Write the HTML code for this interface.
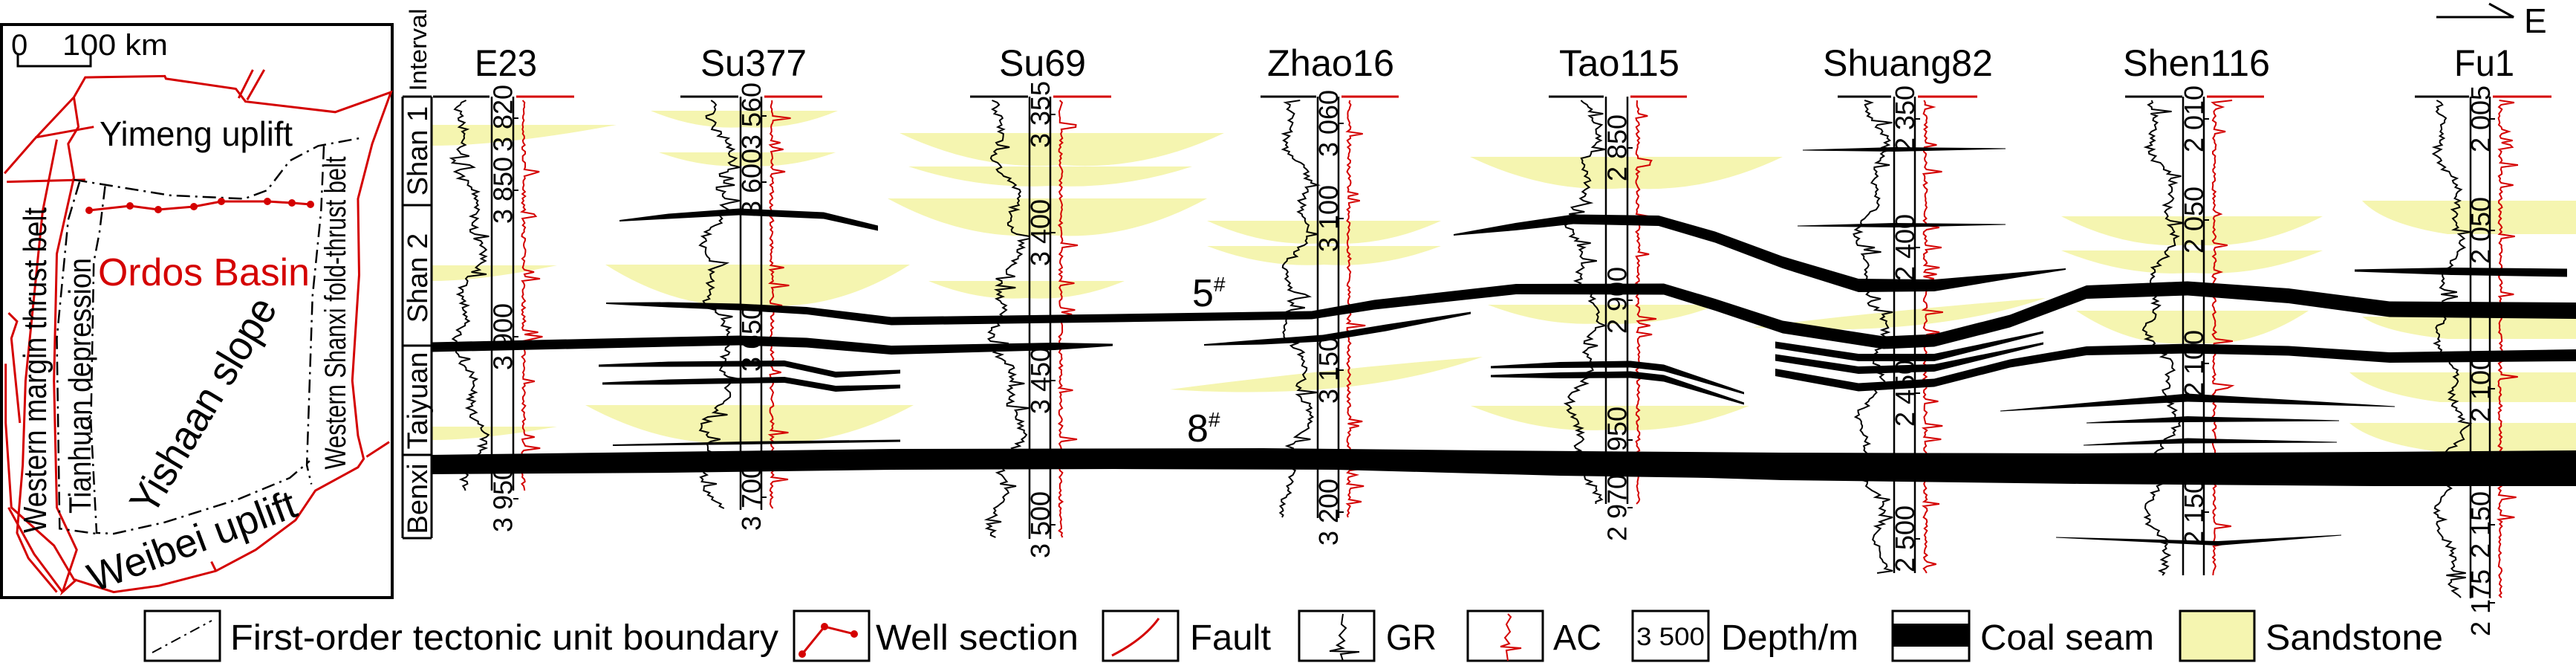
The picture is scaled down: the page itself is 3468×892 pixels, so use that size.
<!DOCTYPE html>
<html><head><meta charset="utf-8"><style>
html,body{margin:0;padding:0;background:#fff}
svg{display:block}
text{font-family:"Liberation Sans",Arial,sans-serif}
</style></head><body>
<svg id="s" xmlns="http://www.w3.org/2000/svg" width="3468" height="892" viewBox="0 0 3468 892">
<rect width="3468" height="892" fill="#fff"/>
<g id="sand" fill="#f5f5b0"></g>
<g id="logs"></g>
<g id="coal" fill="#000"></g>

<!-- MAP -->
<rect x="2" y="33" width="526" height="771" fill="none" stroke="#000" stroke-width="4"/>
<g transform="scale(0.765,0.569)" fill="none">
 <g stroke="#d40000" stroke-width="3">
  <polyline vector-effect="non-scaling-stroke" points="8,410 60,330 130,230 150,183 290,180 292,186 415,210 432,240 590,265 688,218 655,340 630,470 632,650 620,900 630,1030 640,1085 630,1105 555,1160 520,1230 450,1300 380,1350 280,1385 200,1400 130,1370 95,1290 20,1200 10,1000 10,860"/>
  <polyline vector-effect="non-scaling-stroke" points="685,1045 645,1080"/>
  <polyline vector-effect="non-scaling-stroke" points="130,230 138,300 120,340 130,420 100,600 95,900 100,1200 135,1300 110,1400 135,1370"/>
  <polyline vector-effect="non-scaling-stroke" points="62,325 165,300"/>
  <polyline vector-effect="non-scaling-stroke" points="12,430 150,425"/>
  <polyline vector-effect="non-scaling-stroke" points="100,330 75,500 60,700 45,900 40,1100 30,1260 50,1320 100,1400"/>
  <polyline vector-effect="non-scaling-stroke" points="15,740 30,760 20,800 35,1000"/>
  <polyline vector-effect="non-scaling-stroke" points="420,232 445,165"/>
  <polyline vector-effect="non-scaling-stroke" points="435,236 465,165"/>
  <polyline vector-effect="non-scaling-stroke" points="380,1350 372,1328"/>
  <polyline vector-effect="non-scaling-stroke" points="15,1200 60,1310 110,1400"/>
 </g>
 <g stroke="#000" stroke-width="2.5" stroke-dasharray="18,7,3,7">
  <polyline vector-effect="non-scaling-stroke" points="130,425 300,462 430,470 470,450 510,380 560,345 640,325"/>
  <polyline vector-effect="non-scaling-stroke" points="185,440 175,550 165,620 160,1000 170,1260 200,1262 290,1235 420,1180 510,1130 545,1090"/>
  <polyline vector-effect="non-scaling-stroke" points="570,345 565,500 550,700 545,900 540,1100 548,1145"/>
  <polyline vector-effect="non-scaling-stroke" points="140,430 120,520 100,800 105,1250 170,1262"/>
 </g>
</g>
<polyline points="120,283 175,277 213,282 261,278 298,271 360,271 393,273 418,275" fill="none" stroke="#d40000" stroke-width="3"/>
<g fill="#d40000"><circle cx="120" cy="283" r="5"/><circle cx="175" cy="277" r="5"/><circle cx="213" cy="282" r="5"/><circle cx="261" cy="278" r="5"/><circle cx="298" cy="271" r="5"/><circle cx="360" cy="271" r="5"/><circle cx="393" cy="273" r="5"/><circle cx="418" cy="275" r="5"/></g>
<polyline points="24,74 24,89 122,89 122,74" fill="none" stroke="#000" stroke-width="3"/>
<text x="15" y="74" font-size="40">0</text>
<text x="84" y="74" font-size="40" textLength="142" lengthAdjust="spacingAndGlyphs">100 km</text>
<text x="134" y="196" font-size="46" textLength="260" lengthAdjust="spacingAndGlyphs">Yimeng uplift</text>
<text x="132" y="384" font-size="52" fill="#d40000" textLength="285" lengthAdjust="spacingAndGlyphs">Ordos Basin</text>
<text transform="translate(62,498) rotate(-90)" text-anchor="middle" font-size="44" textLength="438" lengthAdjust="spacingAndGlyphs">Western margin thrust belt</text>
<text transform="translate(122,519) rotate(-90)" text-anchor="middle" font-size="42" textLength="344" lengthAdjust="spacingAndGlyphs">Tianhuan depression</text>
<text transform="translate(465,421) rotate(-90)" text-anchor="middle" font-size="40" textLength="421" lengthAdjust="spacingAndGlyphs">Western Shanxi fold-thrust belt</text>
<text transform="translate(290,555) rotate(-59)" text-anchor="middle" font-size="56" textLength="328" lengthAdjust="spacingAndGlyphs">Yishaan slope</text>
<text transform="translate(265,745) rotate(-20.5)" text-anchor="middle" font-size="54" textLength="295" lengthAdjust="spacingAndGlyphs">Weibei uplift</text>

<!-- Interval column -->
<text transform="translate(574,67) rotate(-90)" text-anchor="middle" font-size="32" textLength="111" lengthAdjust="spacingAndGlyphs">Interval</text>
<g stroke="#000" stroke-width="3">
 <line x1="542" y1="130" x2="542" y2="724"/><line x1="581" y1="130" x2="581" y2="724"/>
 <line x1="542" y1="130" x2="581" y2="130"/><line x1="542" y1="276" x2="581" y2="276"/>
 <line x1="542" y1="465" x2="581" y2="465"/><line x1="542" y1="612" x2="581" y2="612"/>
 <line x1="542" y1="724" x2="581" y2="724"/>
</g>
<g font-size="38">
<text transform="translate(575,203) rotate(-90)" text-anchor="middle">Shan 1</text>
<text transform="translate(575,374) rotate(-90)" text-anchor="middle">Shan 2</text>
<text transform="translate(575,539) rotate(-90)" text-anchor="middle">Taiyuan</text>
<text transform="translate(575,671) rotate(-90)" text-anchor="middle">Benxi</text>
</g>

<g id="labels" font-size="36"></g>

<!-- well titles -->
<g font-size="50">
<text x="639" y="102" textLength="84" lengthAdjust="spacingAndGlyphs">E23</text>
<text x="943" y="102" textLength="143" lengthAdjust="spacingAndGlyphs">Su377</text>
<text x="1345" y="102" textLength="117" lengthAdjust="spacingAndGlyphs">Su69</text>
<text x="1706" y="102" textLength="171" lengthAdjust="spacingAndGlyphs">Zhao16</text>
<text x="2099" y="102" textLength="162" lengthAdjust="spacingAndGlyphs">Tao115</text>
<text x="2454" y="102" textLength="229" lengthAdjust="spacingAndGlyphs">Shuang82</text>
<text x="2858" y="102" textLength="198" lengthAdjust="spacingAndGlyphs">Shen116</text>
<text x="3304" y="102" textLength="81" lengthAdjust="spacingAndGlyphs">Fu1</text>
</g>
<text x="1605" y="412" font-size="52">5</text><text x="1634" y="392" font-size="28">#</text>
<text x="1598" y="594" font-size="52">8</text><text x="1627" y="574" font-size="28">#</text>

<!-- E arrow -->
<polyline points="3280,23 3384,23 3351,5" fill="none" stroke="#000" stroke-width="3"/>
<text x="3398" y="44" font-size="46">E</text>

<!-- legend -->
<g stroke="#000" stroke-width="3" fill="none">
 <rect x="195" y="822" width="101" height="67"/>
 <rect x="1069" y="822" width="101" height="67"/>
 <rect x="1485" y="822" width="101" height="67"/>
 <rect x="1749" y="822" width="101" height="67"/>
 <rect x="1976" y="822" width="101" height="67"/>
 <rect x="2198" y="822" width="102" height="67"/>
 <rect x="2548" y="822" width="103" height="67"/>
 <rect x="2935" y="822" width="100" height="67" fill="#f5f5b0"/>
 <line x1="205" y1="878" x2="285" y2="835" stroke-width="2" stroke-dasharray="14,6,3,6"/>
</g>
<rect x="2548" y="839" width="103" height="31" fill="#000"/>
<polyline points="1080,880 1110,843 1150,853" fill="none" stroke="#d40000" stroke-width="3"/>
<g fill="#d40000"><circle cx="1080" cy="880" r="5"/><circle cx="1110" cy="843" r="5"/><circle cx="1150" cy="853" r="5"/></g>
<path d="M1497,882 Q1540,860 1560,832" fill="none" stroke="#d40000" stroke-width="3"/>
<polyline points="1808,826 1806,840 1812,845 1803,855 1810,862 1800,868 1808,872 1790,876 1830,877 1805,880 1808,889" fill="none" stroke="#000" stroke-width="2"/>
<polyline points="2030,826 2034,830 2028,840 2033,850 2026,858 2032,866 2020,870 2048,872 2028,875 2030,889" fill="none" stroke="#d40000" stroke-width="2"/>
<g font-size="48">
<text x="310" y="874" textLength="738" lengthAdjust="spacingAndGlyphs">First-order tectonic unit boundary</text>
<text x="1179" y="874" textLength="273" lengthAdjust="spacingAndGlyphs">Well section</text>
<text x="1602" y="874" textLength="109" lengthAdjust="spacingAndGlyphs">Fault</text>
<text x="1866" y="874" textLength="68" lengthAdjust="spacingAndGlyphs">GR</text>
<text x="2091" y="874" textLength="65" lengthAdjust="spacingAndGlyphs">AC</text>
<text x="2317" y="874" textLength="185" lengthAdjust="spacingAndGlyphs">Depth/m</text>
<text x="2666" y="874" textLength="234" lengthAdjust="spacingAndGlyphs">Coal seam</text>
<text x="3050" y="874" textLength="239" lengthAdjust="spacingAndGlyphs">Sandstone</text>
</g>
<text x="2203" y="868" font-size="34" textLength="92" lengthAdjust="spacingAndGlyphs">3 500</text>
</svg>
<script>
(function(){
var NS="http://www.w3.org/2000/svg";
function el(p,t,a){var e=document.createElementNS(NS,t);for(var k in a)e.setAttribute(k,a[k]);document.getElementById(p).appendChild(e);return e;}
var seed=7;function r(){seed=(seed*16807)%2147483647;return seed/2147483647;}
var S=[[581,830,168,196,1],[581,750,357,378,1],[581,750,574,592,1],
[876,1128,149,171,0],[887,1125,205,223,0],[815,1225,356,410,0],[788,1230,545,595,0],
[1211,1648,179,222,0],[1223,1605,224,250,0],[1195,1625,267,316,0],[1250,1514,378,401,0],
[1625,1940,297,327,0],[1625,1940,331,356,0],[1575,1996,480,535,3],
[1979,2400,211,253,0],[2003,2313,410,435,0],[1980,2355,546,578,0],[2360,2754,401,450,3],
[2775,3127,291,329,0],[2775,3127,337,367,0],[2795,3108,418,461,0],
[3180,3468,270,315,2],[3180,3468,426,456,2],[3163,3468,501,541,2],[3163,3468,569,608,2]];
S.forEach(function(s){var x1=s[0],x2=s[1],yt=s[2],yb=s[3],d;var w=x2-x1,h=yb-yt;
 if(s[4]==0)d="M"+x1+","+yt+"L"+x2+","+yt+"Q"+(x1+w*0.75)+","+(yb+h*0.2)+" "+(x1+w/2)+","+yb+"Q"+(x1+w*0.25)+","+(yb+h*0.2)+" "+x1+","+yt+"Z";
 else if(s[4]==1)d="M"+x1+","+yt+"L"+x2+","+yt+"Q"+(x1+w*0.4)+","+yb+" "+x1+","+yb+"Z";
 else if(s[4]==2)d="M"+x1+","+yt+"L"+x2+","+yt+"L"+x2+","+yb+"L"+(x1+w*0.4)+","+yb+"Q"+(x1+w*0.1)+","+(yt+h*0.7)+" "+x1+","+yt+"Z";
 else d="M"+x1+","+(yt+h*0.8)+"Q"+(x1+w*0.5)+","+(yt+h*0.3)+" "+x2+","+yt+"Q"+(x1+w*0.6)+","+(yb+h*0.1)+" "+x1+","+(yt+h*0.8)+"Z";
 el("sand","path",{d:d});});
var W=[[583,659,662,691,773,660,[["3 820",159],["3 850",256],["3 900",453],["3 950",671]]],
[916,994,997,1025,1107,686,[["3 560",156],["3 600",245],["3 650",455],["3 700",669]]],
[1306,1384,1386,1414,1496,725,[["3 355",154],["3 400",313],["3 450",512],["3 500",706]]],
[1697,1772,1774,1802,1883,697,[["3 060",166],["3 100",294],["3 150",498],["3 200",689]]],
[2085,2159,2162,2191,2271,678,[["2 850",199],["2 900",404],["2 950",592],["2 970",683]]],
[2474,2546,2550,2578,2662,771,[["2 350",160],["2 400",333],["2 450",529],["2 500",725]]],
[2861,2938,2939,2967,3048,774,[["2 010",160],["2 050",296],["2 100",489],["2 150",689]]],
[3251,3324,3326,3352,3435,805,[["2 005",160],["2 050",310],["2 100",523],["2 150",706],["2 175",811]]]];
W.forEach(function(w,i){
 el("logs","line",{x1:w[0],y1:130,x2:w[1],y2:130,stroke:"#000","stroke-width":3});
 el("logs","line",{x1:w[3]+4,y1:130,x2:w[4],y2:130,stroke:"#d40000","stroke-width":3});
 el("logs","line",{x1:w[2],y1:130,x2:w[2],y2:w[5],stroke:"#000","stroke-width":2.5});
 el("logs","line",{x1:w[3],y1:130,x2:w[3],y2:w[5],stroke:"#000","stroke-width":2.5});
 w[6].forEach(function(l){
  var t=el("labels","text",{transform:"translate("+((w[2]+w[3])/2+13)+","+l[1]+") rotate(-90)","text-anchor":"middle"});t.textContent=l[0];
  el("logs","line",{x1:w[3],y1:l[1],x2:w[3]+7,y2:l[1],stroke:"#000","stroke-width":2});});
 var g=[],a=[],gw=w[1]-w[0],ph=r()*10;
 for(var y=135;y<=w[5];y+=3){
  var v=0.55+0.22*Math.sin(y/41+ph)+0.12*Math.sin(y/13+ph*2)+0.18*(r()-0.5);
  if(r()<0.04)v+=0.3;
  v=Math.max(0.05,Math.min(1,v));
  g.push((w[0]+12+v*(gw-10)).toFixed(1)+","+y);
  var ax=w[3]+14+5*(r()-0.5);if(r()<0.06)ax+=10+r()*14;
  a.push(ax.toFixed(1)+","+y);}
 el("logs","polyline",{points:g.join(" "),fill:"none",stroke:"#000","stroke-width":2});
 el("logs","polyline",{points:a.join(" "),fill:"none",stroke:"#d40000","stroke-width":2});
});
// coal seams: points [x,y,width]
function seam(P){var top=[],bot=[];P.forEach(function(p){top.push(p[0]+","+(p[1]-p[2]/2));bot.unshift(p[0]+","+(p[1]+p[2]/2));});
 el("coal","polygon",{points:top.concat(bot).join(" ")});}
[
[[834,297,2],[900,291,7],[995,285,9],[1109,290,9],[1182,307,7]],
[[816,408,2],[900,410,7],[995,413,9],[1086,418,10],[1200,432,11]],
[[581,467,13],[995,458,13],[1086,461,13],[1200,471,12],[1420,466,10],[1498,464,3]],
[[806,492,3],[900,490,7],[1056,489,8],[1125,504,8],[1212,500,5]],
[[811,516,3],[900,514,7],[1056,511,8],[1125,523,8],[1212,520,5]],
[[825,599,2],[1000,596,4],[1212,593,3]],
[[1200,432,11],[1500,428,11],[1766,424,11],[1850,410,13],[2041,389,14],[2240,389,15],[2309,410,16],[2400,440,17],[2536,461,17],[2604,458,17],[2706,432,17],[2809,393,18],[2945,388,19],[3081,398,20],[3217,416,21],[3468,418,22]],
[[1621,464,2],[1700,460,7],[1781,455,9],[1866,441,9],[1980,421,3]],
[[1957,316,2],[2040,305,10],[2118,295,13],[2233,297,14],[2309,319,15],[2400,353,16],[2502,384,18],[2604,384,16],[2700,372,8],[2781,362,2]],
[[2007,494,3],[2100,491,8],[2195,490,9],[2240,495,9],[2348,529,3]],
[[2007,506,3],[2100,505,8],[2195,504,9],[2240,509,9],[2348,543,3]],
[[2390,464,9],[2502,481,10],[2604,481,10],[2751,447,3]],
[[2390,481,9],[2502,498,10],[2604,495,10],[2751,462,3]],
[[2390,501,10],[2502,521,11],[2604,515,11],[2706,489,11],[2809,472,12],[2945,469,13],[3081,472,13],[3217,481,14],[3468,478,16]],
[[2427,202,1],[2550,201,6],[2700,200,1]],[[2420,304,1],[2550,303,6],[2700,302,1]],
[[3170,364,3],[3300,365,10],[3456,367,11]],
[[2693,553,1],[2945,535,11],[3224,547,1]],
[[2809,569,1],[2945,564,8],[3149,566,1]],
[[2805,599,1],[2945,593,7],[3146,595,1]],
[[2768,723,1],[2986,731,6],[3152,720,1]]
].forEach(seam);
el("coal","path",{d:"M581,612 L1200,604 L1700,603 L2000,606 L2400,609 L2800,610 L3200,608 L3468,606 L3468,654 L3200,654 L2800,651 L2400,646 L2300,643 L2100,640 L1800,632 L1500,631 L1200,632 L900,636 L581,638 Z"});
})();
</script>
</body></html>
